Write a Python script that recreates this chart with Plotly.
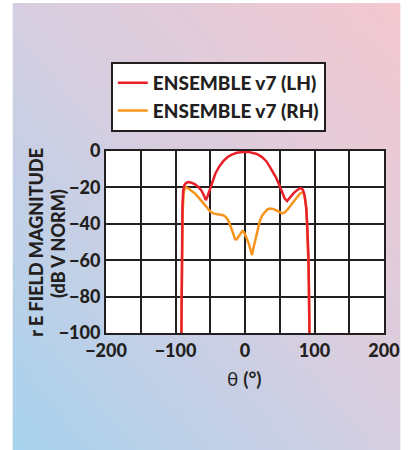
import base64, struct, zlib
import plotly.graph_objects as go

# ---------------- data ----------------
lh_theta = [-91.5, -91.0, -90.5, -90.0, -89.0, -87.5, -85, -81.7, -77, -72.5, -68, -63, -59, -56.4,
            -54, -51.5, -49.5, -46, -42.7, -37, -31.2, -25, -19.7, -12, -6, 0, 6, 12, 17, 24, 30.7,
            36, 40.5, 44.5, 48, 51, 53.7, 57, 60.5, 63, 66, 69.7, 74, 78.9, 81.5, 83.5, 85.5, 86.7,
            88, 89.4, 90.4, 91.3, 92, 92.7]
lh_mag = [-100, -70, -45, -30, -22, -19, -17.6, -17.1, -17.4, -18.2, -19.5, -21.5, -24.5, -27,
          -25, -22, -19.5, -15.5, -12.5, -8.5, -5.6, -3.3, -2.1, -1.0, -0.5, -0.4, -0.6, -1.0, -1.6,
          -3.2, -5.6, -8.8, -11.5, -14.5, -17.5, -20.5, -23, -26, -27.5, -26.3, -24.7, -23.3, -21.8,
          -20.5, -20.6, -21.5, -24, -27, -31, -39.8, -48, -58, -75, -100]

rh_theta = [-91.6, -90.8, -89.8, -88.3, -86.2, -82, -77, -72, -67.9, -63, -58.7, -54, -49.5, -45,
            -40.4, -35, -31.2, -27.5, -24.3, -21.5, -19.7, -17, -14.2, -12, -9.6, -6.5, -3.7, -1.5,
            0.9, 3, 5.5, 8, 10.1, 12, 14.7, 17.5, 21.6, 25, 28.4, 32, 35.3, 40, 44.5, 49, 53.7, 57,
            60.5, 65, 69.7, 74.5, 78.9, 83.5, 86, 88.5, 90, 91.5, 92.8]
rh_mag = [-100, -60, -35, -23, -19.8, -20.5, -21.8, -23.3, -25.1, -27.3, -29.7, -31.8, -33.4, -34.4,
          -34.8, -35, -35.3, -36.3, -38, -40.5, -42.6, -45.8, -48.4, -48.6, -47.3, -45, -43.9, -44.5,
          -46.2, -48.5, -51, -54.5, -57.2, -53.5, -49, -44, -38.2, -35.2, -33.4, -32.2, -31.6, -31.8,
          -32.5, -33.5, -34.3, -33.8, -32.5, -30.2, -27.9, -25.5, -23.5, -22.4, -25, -32, -45, -65, -100]

series_names = ["ENSEMBLE v7 (LH)", "ENSEMBLE v7 (RH)"]
x_ticks = [-200, -100, 0, 100, 200]
y_ticks = [0, -20, -40, -60, -80, -100]

# ---------------- background gradient PNG ----------------
def lerp(a, b, t):
    return tuple(int(round(a[i] + (b[i] - a[i]) * t)) for i in range(3))

def grad_png(w, h):
    c0 = (168, 210, 238)   # bottom-left blue
    c1 = (214, 206, 224)   # middle lavender
    c2 = (244, 200, 208)   # top-right pink
    raw = bytearray()
    for yy in range(h):
        raw.append(0)
        for xx in range(w):
            t = (xx / (w - 1) + (1 - yy / (h - 1))) / 2
            if t < 0.5:
                c = lerp(c0, c1, t / 0.5)
            else:
                c = lerp(c1, c2, (t - 0.5) / 0.5)
            raw.extend(c)
    def chunk(tag, data):
        return struct.pack(">I", len(data)) + tag + data + struct.pack(">I", zlib.crc32(tag + data) & 0xffffffff)
    png = b"\x89PNG\r\n\x1a\n" + chunk(b"IHDR", struct.pack(">IIBBBBB", w, h, 8, 2, 0, 0, 0)) \
        + chunk(b"IDAT", zlib.compress(bytes(raw), 9)) + chunk(b"IEND", b"")
    return "data:image/png;base64," + base64.b64encode(png).decode()

# ---------------- figure ----------------
W, H = 412, 450
ML, MR, MT, MB = 106, 17, 151, 117
PW, PH = W - ML - MR, H - MT - MB
INK = "#231f20"
FONT = "Lato"

fig = go.Figure()
fig.add_trace(go.Scatter(x=rh_theta, y=rh_mag, mode="lines", name=series_names[1],
                         line=dict(color="#f7941d", width=2.5)))
fig.add_trace(go.Scatter(x=lh_theta, y=lh_mag, mode="lines", name=series_names[0],
                         line=dict(color="#e8202a", width=2.5)))

def px_x(p):  # page pixel -> paper x
    return (p - ML) / PW

def px_y(p):  # page pixel -> paper y
    return (H - MB - p) / PH

fig.add_layout_image(dict(source=grad_png(80, 90), xref="paper", yref="paper",
                          x=px_x(9), y=px_y(3), sizex=(W - 9) / PW, sizey=(H - 3) / PH,
                          xanchor="left", yanchor="top", sizing="stretch", layer="below"))
fig.add_shape(type="rect", xref="paper", yref="paper", x0=0, x1=1, y0=0, y1=1,
              fillcolor="white", line=dict(width=0), layer="below")

tick_font = dict(family=FONT, size=18, color=INK, weight=900)
axis_common = dict(showgrid=True, gridcolor=INK, gridwidth=2, showline=True, linecolor=INK,
                   linewidth=2, mirror=True, zeroline=False, ticks="", tickfont=tick_font)

fig.update_xaxes(range=[-200, 200], tickvals=x_ticks, minor=dict(dtick=50, showgrid=True,
                 gridcolor=INK, gridwidth=2), **axis_common)
fig.update_yaxes(range=[-100, 0], tickvals=y_ticks, **axis_common)

title_font = dict(family=FONT, size=18, color=INK, weight=900)
fig.add_annotation(text="r E FIELD MAGNITUDE", xref="paper", yref="paper", x=px_x(33), y=px_y(242),
                   textangle=-90, showarrow=False, xanchor="center", yanchor="middle", font=title_font)
fig.add_annotation(text="(dB V NORM)", xref="paper", yref="paper", x=px_x(56), y=px_y(243),
                   textangle=-90, showarrow=False, xanchor="center", yanchor="middle", font=title_font)
fig.add_annotation(text="θ <b>(°)</b>", xref="paper", yref="paper", x=px_x(250), y=px_y(378),
                   showarrow=False, xanchor="center", yanchor="middle",
                   font=dict(family=FONT, size=19, color=INK))

fig.update_layout(
    width=W, height=H, margin=dict(l=ML, r=MR, t=MT, b=MB),
    paper_bgcolor="white", plot_bgcolor="white",
    showlegend=True,
    legend=dict(x=px_x(111), y=px_y(62), xanchor="left", yanchor="top", bgcolor="white",
                bordercolor=INK, borderwidth=2, traceorder="reversed",
                font=dict(family=FONT, size=19, color=INK, weight=900)),
)

fig.write_html("out.html", config={"displayModeBar": False},
               post_script="document.body.style.margin='0';"
                           "document.documentElement.style.overflow='hidden';")
